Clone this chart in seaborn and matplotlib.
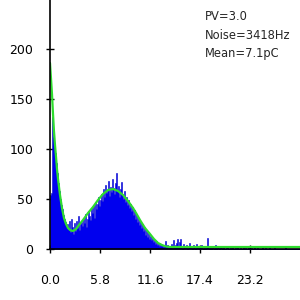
import numpy as np
import pandas as pd
import matplotlib
matplotlib.use('Agg')
import matplotlib.pyplot as plt
import seaborn as sns

# charge histogram, one bin per 0.116 pC from 0 to 29 pC
bin_width = 0.116
n_bins = 250
counts = [
    54, 56, 132, 112, 104, 96, 86, 76, 66, 58,
    50, 44, 40, 34, 30, 27, 23, 25, 20, 28,
    17, 30, 22, 15, 26, 18, 28, 21, 33, 19,
    25, 27, 23, 31, 26, 35, 22, 30, 38, 33,
    29, 41, 36, 44, 31, 47, 40, 45, 52, 43,
    49, 55, 48, 60, 52, 64, 56, 58, 68, 53,
    62, 57, 70, 61, 55, 66, 76, 58, 63, 52,
    60, 67, 54, 50, 58, 47, 52, 44, 49, 41,
    45, 38, 42, 34, 39, 30, 35, 27, 31, 24,
    28, 21, 25, 18, 22, 14, 19, 12, 16, 10,
    13, 9, 11, 7, 9, 5, 8, 4, 6, 3,
    5, 3, 4, 2, 3, 8, 2, 4, 1, 3,
    2, 5, 1, 9, 2, 4, 6, 10, 3, 7,
    10, 3, 0, 5, 2, 1, 4, 0, 2, 6,
    1, 3, 0, 4, 2, 0, 5, 1, 3, 0,
    2, 4, 1, 0, 3, 0, 2, 11, 1, 0,
    2, 0, 3, 1, 0, 4, 0, 2, 1, 0,
    3, 1, 0, 2, 0, 0, 1, 3, 0, 0,
    1, 0, 2, 0, 0, 1, 0, 3, 0, 0,
    1, 0, 0, 2, 0, 1, 0, 0, 3, 0,
    0, 1, 0, 0, 2, 0, 0, 1, 0, 0,
    0, 0, 2, 0, 0, 1, 0, 0, 0, 1,
    0, 0, 0, 0, 1, 0, 0, 0, 0, 0,
    0, 0, 0, 0, 0, 2, 0, 0, 0, 0,
    0, 0, 0, 0, 0, 0, 0, 0, 0, 0,
]

# fit curve
fit_x = [0.0, 0.12, 0.23, 0.35, 0.46, 0.58, 0.70, 0.81, 0.93, 1.16,
         1.39, 1.62, 1.86, 2.09, 2.32, 2.67, 3.02, 3.36, 3.83, 4.41,
         4.99, 5.57, 6.15, 6.73, 7.31, 7.89, 8.47, 9.05, 9.63, 9.98,
         10.44, 11.02, 11.60, 12.06, 12.53, 12.99, 13.46, 13.92, 29.0]
fit_y = [186, 170, 155, 135, 118, 104, 92, 80, 70, 54,
         41, 31, 25, 21, 19, 18, 20, 24, 29, 36,
         42, 49, 55, 59, 60, 58, 54, 48, 41, 36,
         29, 21, 15, 10, 6, 4, 2.5, 2, 2]

x_ticks = [0.0, 5.8, 11.6, 17.4, 23.2]
y_ticks = [0, 50, 100, 150, 200]
info = ['PV=3.0', 'Noise=3418Hz', 'Mean=7.1pC']

sns.set_style('ticks')
plt.rcParams['font.family'] = ['DejaVu Sans']

fig = plt.figure(figsize=(3, 3), dpi=100)
ax = fig.add_axes([50 / 300, 51 / 300, 250 / 300, 249 / 300])

edges = list(np.arange(n_bins + 1) * bin_width)
hist = pd.DataFrame({'charge': (np.arange(n_bins) + 0.5) * bin_width,
                     'count': counts})
sns.histplot(data=hist, x='charge', weights='count', bins=edges,
             element='step', fill=True, color='#0000ee', alpha=1,
             edgecolor='#0000cc', linewidth=0.4, ax=ax)
sns.lineplot(x=fit_x, y=fit_y, color='#2edc2e', linewidth=1.6, ax=ax)

ax.set_xlim(0, 29.0)
ax.set_ylim(0, 249)
ax.set_xticks(x_ticks)
ax.set_xticklabels([f'{t:.1f}' for t in x_ticks])
ax.set_yticks(y_ticks)
ax.set_xlabel('')
ax.set_ylabel('')
ax.tick_params(axis='both', direction='inout', length=6, width=1,
               labelsize=9, colors='black')
ax.tick_params(axis='x', pad=15)
ax.tick_params(axis='y', pad=9)
sns.despine(ax=ax)
for s in ['left', 'bottom']:
    ax.spines[s].set_linewidth(1.2)
    ax.spines[s].set_color('black')

ax.text(0.62, 0.958, '\n'.join(info), transform=ax.transAxes,
        ha='left', va='top', fontsize=8.3, linespacing=1.55)

fig.savefig('out.png', dpi=100)
